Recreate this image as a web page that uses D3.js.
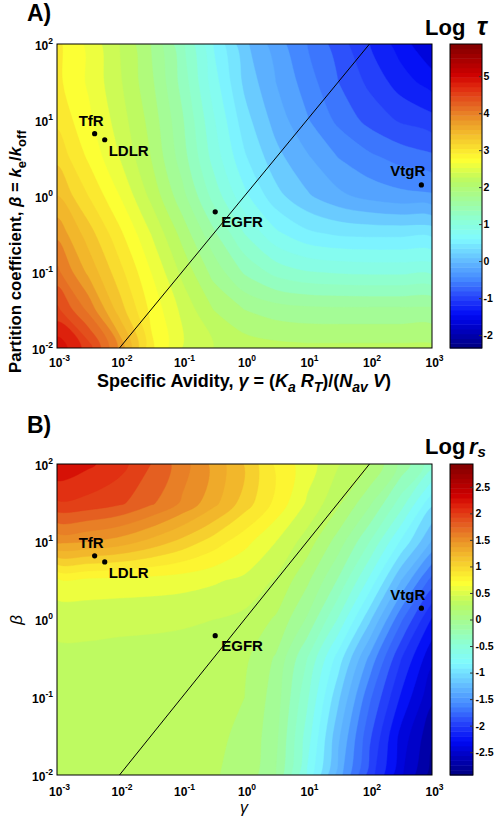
<!DOCTYPE html>
<html><head><meta charset="utf-8">
<script src="https://cdn.jsdelivr.net/npm/d3@7"></script>
<style>
body{margin:0;background:#fff}
text{font-family:"Liberation Sans",Arial,sans-serif;fill:#000}
</style>
</head><body><svg id="c" width="494" height="818"></svg>
<script>
// ---------- data ----------
const gammaLog = [-3,-2.5,-2,-1.5,-1,-0.5,0,0.5,1,1.5,2,2.5,3];   // grid columns (log10 gamma)
const betaLog  = [2,1.5,1,0.5,0,-0.5,-1,-1.5,-2];                 // grid rows (log10 beta)
// Log tau, rows follow betaLog, columns follow gammaLog
const tauGrid = [
  [2.9, 2.6, 2.25, 1.85, 1.3, 0.65, 0.1, -0.25, -0.55, -0.85, -1.15, -1.45, -1.75],
  [2.9, 2.62, 2.28, 1.9, 1.38, 0.75, 0.2, -0.15, -0.45, -0.75, -1.0, -1.25, -1.45],
  [3.0, 2.7, 2.35, 1.98, 1.48, 0.88, 0.33, -0.03, -0.33, -0.6, -0.82, -0.98, -1.08],
  [3.2, 2.82, 2.45, 2.05, 1.55, 0.98, 0.48, 0.12, -0.12, -0.35, -0.5, -0.62, -0.7],
  [3.45, 3.05, 2.65, 2.2, 1.72, 1.18, 0.7, 0.32, 0.08, -0.1, -0.22, -0.29, -0.32],
  [3.8, 3.35, 2.9, 2.45, 1.98, 1.5, 1.05, 0.7, 0.5, 0.42, 0.4, 0.4, 0.4],
  [4.1, 3.6, 3.12, 2.65, 2.2, 1.78, 1.42, 1.18, 1.06, 1.02, 1.0, 1.0, 1.0],
  [4.5, 4.0, 3.35, 2.8, 2.4, 2.05, 1.85, 1.75, 1.71, 1.7, 1.7, 1.7, 1.7],
  [5.0, 4.55, 3.8, 2.9, 2.45, 2.25, 2.17, 2.12, 2.1, 2.1, 2.1, 2.1, 2.1]
];
// Log r_s
const rsGrid = [
  [2.3, 2.2, 2.08, 1.87, 1.64, 1.38, 1.11, 0.79, 0.59, 0.38, 0.23, -0.12, -0.47],
  [2.0, 1.97, 1.9, 1.75, 1.55, 1.32, 1.05, 0.78, 0.5, 0.25, -0.05, -0.45, -0.95],
  [1.45, 1.42, 1.35, 1.22, 1.07, 0.9, 0.72, 0.52, 0.3, 0.0, -0.38, -0.85, -1.3],
  [0.62, 0.62, 0.61, 0.6, 0.58, 0.54, 0.48, 0.35, 0.1, -0.25, -0.72, -1.28, -1.8],
  [0.42, 0.42, 0.41, 0.4, 0.39, 0.37, 0.33, 0.2, -0.1, -0.55, -1.1, -1.7, -2.2],
  [0.33, 0.33, 0.32, 0.32, 0.31, 0.29, 0.25, 0.05, -0.38, -0.9, -1.47, -2.02, -2.45],
  [0.3, 0.3, 0.3, 0.29, 0.28, 0.26, 0.22, 0.0, -0.5, -1.1, -1.7, -2.2, -2.6],
  [0.29, 0.29, 0.28, 0.28, 0.27, 0.24, 0.2, -0.04, -0.6, -1.25, -1.85, -2.38, -2.75],
  [0.28, 0.28, 0.27, 0.27, 0.26, 0.23, 0.18, -0.08, -0.7, -1.35, -1.95, -2.45, -2.85]
];
const receptors = ["TfR", "LDLR", "EGFR", "VtgR"];
const recGamma  = [0.004, 0.0058, 0.34, 676];
const recBeta   = [6.6, 5.5, 0.62, 1.4];
const xTicks = [1e-3, 1e-2, 1e-1, 1e0, 1e1, 1e2, 1e3];
const yTicks = [1e-2, 1e-1, 1e0, 1e1, 1e2];
const tauTicks = [-2, -1, 0, 1, 2, 3, 4, 5];
const rsTicks  = [-2.5, -2, -1.5, -1, -0.5, 0, 0.5, 1, 1.5, 2, 2.5];
const tauRange = [-2.35, 5.87];
const rsRange  = [-2.93, 2.93];
const refLine  = [0.01, 100];   // beta = gamma

// ---------- styles ----------
const cmapStops = [
  [0.00,[0,0,128]],[0.06,[0,0,190]],[0.11,[0,10,245]],[0.17,[40,70,250]],
  [0.23,[70,140,255]],[0.29,[100,190,255]],[0.36,[128,250,255]],[0.42,[140,255,215]],
  [0.48,[160,252,160]],[0.55,[185,250,100]],[0.62,[255,255,50]],[0.69,[245,200,45]],
  [0.75,[235,150,40]],[0.80,[228,100,35]],[0.86,[225,40,15]],[0.90,[205,0,0]],[1.00,[128,0,0]]
];
const cmap = d3.scaleLinear()
  .domain(cmapStops.map(d=>d[0]))
  .range(cmapStops.map(d=>`rgb(${d[1].join(",")})`))
  .interpolate(d3.interpolateRgb).clamp(true);
const NCOL = 64;
const qcol = t => cmap((Math.min(NCOL-1, Math.max(0, Math.floor(t*NCOL))) + 0.5)/NCOL);
const labelStyle = [
  {dx:-16, dy:-8, anchor:"start"},
  {dx:4, dy:16, anchor:"start"},
  {dx:6, dy:15, anchor:"start"},
  {dx:4, dy:-8.5, anchor:"end"}
];

const svg = d3.select("#c");
const defs = svg.append("defs");
const ringLine = d3.line().curve(d3.curveCatmullRomClosed.alpha(0.5));

function powLabel(sel, v, x, y, anchor) {
  const e = Math.round(Math.log10(v));
  const t = sel.append("text").attr("x", x).attr("y", y).attr("text-anchor", anchor)
    .attr("font-size", 12).attr("font-weight", "bold");
  t.append("tspan").text("10");
  t.append("tspan").attr("dy", -6).attr("font-size", 8.5).text(String(e));
}

function panel(cfg) {
  const {id, top, bottom, left, right, grid, range, step, cbX, cbW, cTicks, xLabOff, cbPad} = cfg;
  const x = d3.scaleLog().domain([1e-3, 1e3]).range([left, right]);
  const y = d3.scaleLog().domain([1e-2, 1e2]).range([bottom, top]);
  const n = gammaLog.length, m = betaLog.length;
  const dg = gammaLog[1]-gammaLog[0], db = betaLog[1]-betaLog[0];
  const project = (px, py) => [x(Math.pow(10, gammaLog[0] + (px-0.5)*dg)),
                               y(Math.pow(10, betaLog[0] + (py-0.5)*db))];
  const mpPath = mp => mp.coordinates.map(poly => poly.map(ring =>
      ringLine(ring.slice(0, -1).map(p => project(p[0], p[1])))).join("")).join("");
  defs.append("clipPath").attr("id", "clip"+id).append("rect")
    .attr("x", left).attr("y", top).attr("width", right-left).attr("height", bottom-top);
  const thr = d3.range(range[0], range[1], step);
  const cs = d3.contours().size([n, m]).thresholds(thr)(grid.flat());
  const col = d => qcol((d.value + step/2 - range[0])/(range[1]-range[0]));
  const g = svg.append("g").attr("clip-path", `url(#clip${id})`);
  g.selectAll("path").data(cs.filter(d => d.coordinates.length)).join("path")
    .attr("d", mpPath)
    .attr("fill", col).attr("stroke", col).attr("stroke-width", 0.4);
  // reference line
  g.append("path").attr("d", d3.line()([[x(refLine[0]), y(refLine[0])], [x(refLine[1]), y(refLine[1])]]))
    .attr("stroke", "#000").attr("stroke-width", 1).attr("fill", "none");
  // frame
  svg.append("rect").attr("x", left).attr("y", top).attr("width", right-left).attr("height", bottom-top)
    .attr("fill", "none").attr("stroke", "#000").attr("stroke-width", 1);
  // axes
  const ax = svg.append("g").attr("transform", `translate(0,${bottom})`)
    .call(d3.axisBottom(x).tickValues(xTicks).tickSize(0).tickFormat(""));
  ax.select(".domain").remove();
  ax.selectAll(".tick").each(function(d){ powLabel(d3.select(this), d, 2, xLabOff, "middle"); });
  const ay = svg.append("g").attr("transform", `translate(${left},0)`)
    .call(d3.axisLeft(y).tickValues(yTicks).tickSize(0).tickFormat(""));
  ay.select(".domain").remove();
  ay.selectAll(".tick").each(function(d){ powLabel(d3.select(this), d, -4, 5, "end"); });
  // receptors
  receptors.forEach((r, i) => {
    const px = x(recGamma[i]), py = y(recBeta[i]);
    svg.append("circle").attr("cx", px).attr("cy", py).attr("r", 2.6).attr("fill", "#000");
    const s = labelStyle[i];
    svg.append("text").attr("x", px + s.dx).attr("y", py + s.dy).attr("text-anchor", s.anchor)
      .attr("font-size", 15).attr("font-weight", "bold").text(r);
  });
  // colorbar
  const yc = d3.scaleLinear().domain(range).range([bottom, top]);
  const cb = svg.append("g");
  const dv = (range[1]-range[0])/NCOL;
  cb.selectAll("rect").data(d3.range(NCOL)).join("rect")
    .attr("x", cbX).attr("width", cbW)
    .attr("y", k => yc(range[0] + (k+1)*dv))
    .attr("height", k => yc(range[0] + k*dv) - yc(range[0] + (k+1)*dv) + 0.5)
    .attr("fill", k => cmap((k+0.5)/NCOL));
  cb.append("rect").attr("x", cbX).attr("y", top).attr("width", cbW).attr("height", bottom-top)
    .attr("fill", "none").attr("stroke", "#000").attr("stroke-width", 1);
  const ac = svg.append("g").attr("transform", `translate(${cbX+cbW},0)`)
    .call(d3.axisRight(yc).tickValues(cTicks).tickSize(-3).tickPadding(cbPad).tickFormat(v => String(v)));
  ac.select(".domain").remove();
  ac.selectAll(".tick line").attr("stroke", "#333");
  ac.selectAll(".tick text").attr("font-size", 10.5).attr("font-weight", "bold")
    .attr("font-family", "Liberation Sans, Arial, sans-serif").attr("fill", "#000");
}

panel({id:"A", top:44, bottom:348, left:57, right:432, grid:tauGrid, range:tauRange, step:0.2,
       cbX:450, cbW:32, cTicks:tauTicks, xLabOff:19, cbPad:1.5});
panel({id:"B", top:464, bottom:775, left:57, right:432, grid:rsGrid, range:rsRange, step:0.15,
       cbX:450, cbW:23, cTicks:rsTicks, xLabOff:21, cbPad:2.5});

// ---------- titles ----------
const serif = "Liberation Serif, Times New Roman, serif";
svg.append("text").attr("x", 27).attr("y", 21).attr("font-family", serif).attr("font-weight", "bold")
  .attr("font-size", 23).text("A)");
svg.append("text").attr("x", 27).attr("y", 433).attr("font-family", serif).attr("font-weight", "bold")
  .attr("font-size", 23).text("B)");
svg.append("text").attr("x", 425).attr("y", 35).attr("font-family", serif).attr("font-weight", "bold")
  .attr("font-size", 22).text("Log");
svg.append("text").attr("x", 487).attr("y", 35).attr("text-anchor", "end").attr("font-family", serif)
  .attr("font-weight", "bold").attr("font-style", "italic").attr("font-size", 25).text("τ");
svg.append("text").attr("x", 425).attr("y", 454).attr("font-family", serif).attr("font-weight", "bold")
  .attr("font-size", 22).text("Log");
const rsT = svg.append("text").attr("x", 469).attr("y", 454).attr("font-family", serif)
  .attr("font-weight", "bold").attr("font-style", "italic").attr("font-size", 22);
rsT.append("tspan").text("r");
rsT.append("tspan").attr("font-size", 15).attr("dy", 3).text("s");

// axis titles panel A
const xt = svg.append("text").attr("x", 244).attr("y", 387).attr("text-anchor", "middle")
  .attr("font-size", 18).attr("font-weight", "bold");
xt.append("tspan").text("Specific Avidity, ");
xt.append("tspan").attr("font-style", "italic").text("γ");
xt.append("tspan").text(" = (");
xt.append("tspan").attr("font-style", "italic").text("K");
xt.append("tspan").attr("font-style", "italic").attr("font-size", 14).attr("dy", 5).text("a");
xt.append("tspan").attr("dy", -5).text(" ");
xt.append("tspan").attr("font-style", "italic").text("R");
xt.append("tspan").attr("font-style", "italic").attr("font-size", 14).attr("dy", 5).text("T");
xt.append("tspan").attr("dy", -5).text(")/(");
xt.append("tspan").attr("font-style", "italic").text("N");
xt.append("tspan").attr("font-style", "italic").attr("font-size", 14).attr("dy", 5).text("av");
xt.append("tspan").attr("dy", -5).text(" ");
xt.append("tspan").attr("font-style", "italic").text("V");
xt.append("tspan").text(")");

const yt = svg.append("text").attr("transform", "translate(21,373) rotate(-90)").attr("text-anchor", "start")
  .attr("font-size", 16.8).attr("font-weight", "bold");
yt.append("tspan").text("Partition coefficient, ");
yt.append("tspan").attr("font-style", "italic").text("β");
yt.append("tspan").text(" = ");
yt.append("tspan").attr("font-style", "italic").text("k");
yt.append("tspan").attr("font-size", 13).attr("dy", 5).text("e");
yt.append("tspan").attr("dy", -5).text("/");
yt.append("tspan").attr("font-style", "italic").text("k");
yt.append("tspan").attr("font-size", 13).attr("dy", 5).text("off");

// axis titles panel B
svg.append("text").attr("x", 244).attr("y", 813).attr("text-anchor", "middle")
  .attr("font-size", 16).attr("font-style", "italic").text("γ");
svg.append("text").attr("transform", "translate(22,620) rotate(-90)").attr("text-anchor", "middle")
  .attr("font-size", 17).attr("font-style", "italic").text("β");
</script>
</body></html>
